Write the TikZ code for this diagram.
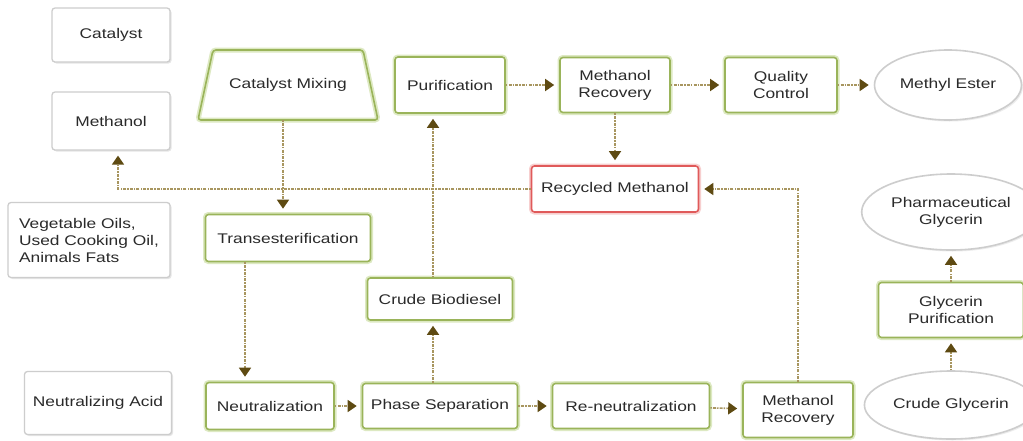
\documentclass[tikz,border=0pt]{standalone}
\usepackage{fontspec}
\setmainfont[FakeStretch=1.24]{Liberation Sans}
\usepackage{xcolor}
\usepackage{tikz}
\usetikzlibrary{arrows.meta}
\usetikzlibrary{shapes.geometric}
\usetikzlibrary{shadows}

\definecolor{boxgreen}{HTML}{9AB45A}
\definecolor{glowgreen}{HTML}{DDE9C2}
\definecolor{boxred}{HTML}{E05A5A}
\definecolor{glowred}{HTML}{F7CFCF}
\definecolor{boxgrey}{HTML}{CDCDCD}
\definecolor{linebrown}{HTML}{A89660}
\definecolor{tipbrown}{HTML}{5E4A12}
\definecolor{textgrey}{HTML}{2A2A2A}

\tikzset{
  greybox/.style={draw=boxgrey, line width=1.3pt, rounded corners=3pt, fill=white,
    drop shadow={shadow xshift=1.5pt, shadow yshift=-1.5pt, opacity=0.2}},
  greenbox/.style={draw=boxgreen, line width=1.6pt, rounded corners=3pt, fill=white,
    preaction={draw=glowgreen, line width=5pt}},
  redbox/.style={draw=boxred, line width=1.6pt, rounded corners=3pt, fill=white,
    preaction={draw=glowred, line width=5pt}},
  endoval/.style={ellipse, draw=boxgrey, line width=1.6pt, fill=white,
    drop shadow={shadow xshift=1.5pt, shadow yshift=-1.5pt, opacity=0.15}},
  flow/.style={draw=linebrown, line width=1.6pt, dash pattern=on 1.5pt off 1.2pt on 3pt off 1pt,
    -{Triangle[width=12pt,length=9pt,fill=tipbrown,color=tipbrown]}, shorten >=5pt}
}

\begin{document}
\begin{tikzpicture}[x=1pt, y=-1pt, every node/.style={align=center, text=textgrey, font=\fontsize{14}{17}\selectfont}]
	 \fill[white] (0,0) rectangle (1023,440);
	 \useasboundingbox (0,0) rectangle (1023,440);
	 % inputs
	 \node[greybox, minimum width=118pt, minimum height=54pt] (catalyst) at (111,35) {Catalyst};
	 \node[greybox, minimum width=118pt, minimum height=58pt, below of=catalyst, node distance=86pt] (methanol) {Methanol};
	 \node[greybox, minimum width=162pt, minimum height=75pt, align=left] (oils) at (89,240) {Vegetable Oils,\\Used Cooking Oil,\\Animals Fats};
	 \node[greybox, minimum width=147pt, minimum height=63pt] (acid) at (98,403) {Neutralizing Acid};
	 % top row
	 \node[minimum width=180pt, minimum height=70pt, outer sep=0pt] (mixing) at (288,85) {Catalyst Mixing};
	 \draw[greenbox, fill=none] (mixing.south west) -- ([xshift=15pt]mixing.north west)
	   -- ([xshift=-15pt]mixing.north east) -- (mixing.south east) -- cycle;
	 \node[greenbox, minimum width=110pt, minimum height=56pt, right of=mixing, node distance=162pt] (purif) {Purification};
	 \node[greenbox, minimum width=110pt, minimum height=55pt, right of=purif, node distance=165pt] (recovtop) {Methanol\\Recovery};
	 \node[greenbox, minimum width=112pt, minimum height=55pt, right of=recovtop, node distance=166pt] (quality) {Quality\\Control};
	 \node[endoval, minimum width=147pt, minimum height=70pt, right of=quality, node distance=167pt] (ester) {Methyl Ester};
	 \node[redbox, minimum width=167pt, minimum height=46pt, below of=recovtop, node distance=104pt] (recycled) {Recycled Methanol};
	 % middle and bottom
	 \node[greenbox, minimum width=165pt, minimum height=47pt, below of=mixing, node distance=153pt] (trans) {Transesterification};
	 \node[greenbox, minimum width=128pt, minimum height=47pt] (neutral) at (270,406) {Neutralization};
	 \node[greenbox, minimum width=155pt, minimum height=45pt, right of=neutral, node distance=170pt] (phase) {Phase Separation};
	 \node[greenbox, minimum width=145pt, minimum height=42pt, above of=phase, node distance=107pt] (biodiesel) {Crude Biodiesel};
	 \node[greenbox, minimum width=157pt, minimum height=45pt, right of=phase, node distance=191pt] (reneut) {Re-neutralization};
	 \node[greenbox, minimum width=110pt, minimum height=55pt] (recovbot) at (798,410) {Methanol\\Recovery};
	 % glycerin branch
	 \node[endoval, minimum width=142pt, minimum height=68pt] (crudegly) at (951,405) {Crude Glycerin};
	 \node[greenbox, minimum width=145pt, minimum height=55pt, above of=crudegly, node distance=95pt] (glypur) {Glycerin\\Purification};
	 \node[endoval, minimum width=157pt, minimum height=76pt, above of=glypur, node distance=98pt] (pharma) {Pharmaceutical\\Glycerin};
	 % connectors
	 \draw[flow] ([xshift=-5pt]mixing.south) -- ([xshift=-5pt]mixing.south |- trans.north);
	 \draw[flow] ([xshift=-43pt]trans.south) -- ([xshift=-43pt]trans.south |- neutral.north);
	 \draw[flow] (neutral) -- (phase);
	 \draw[flow] ([xshift=-7pt]phase.north) -- ([xshift=-7pt]phase.north |- biodiesel.south);
	 \draw[flow] ([xshift=-7pt]biodiesel.north) -- ([xshift=-7pt]biodiesel.north |- purif.south);
	 \draw[flow] (purif) -- (recovtop);
	 \draw[flow] (recovtop) -- (quality);
	 \draw[flow] (quality) -- (ester);
	 \draw[flow] (recovtop) -- (recycled);
	 \draw[flow] (recycled.west) -| ([xshift=7pt]methanol.south);
	 \draw[flow] (phase) -- (reneut);
	 \draw[flow] (reneut) -- (recovbot);
	 \draw[flow] (recovbot.north) |- (recycled.east);
	 \draw[flow] (crudegly) -- (glypur);
	 \draw[flow] (glypur) -- (pharma);
\end{tikzpicture}
\end{document}
